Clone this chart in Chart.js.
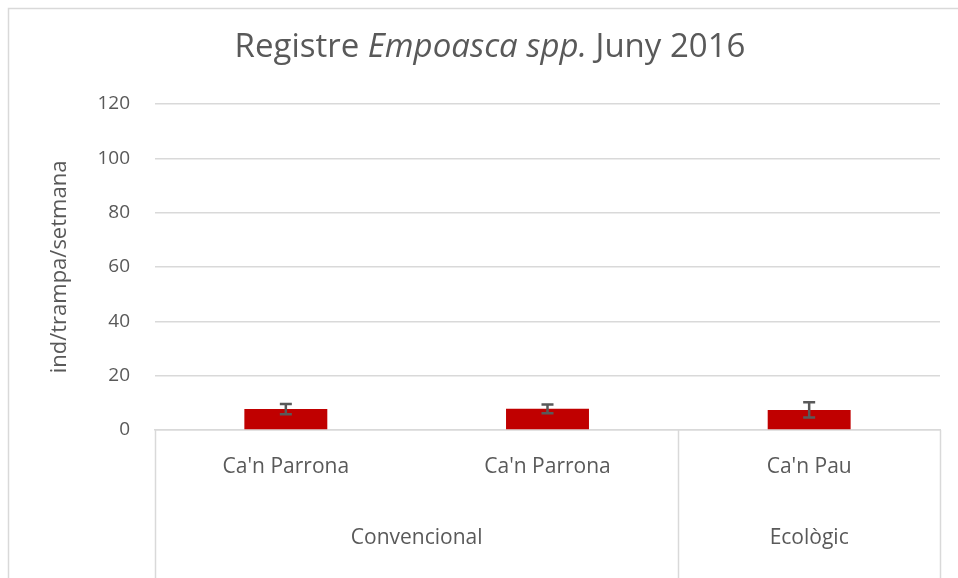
<!DOCTYPE html>
<html>
<head>
<meta charset="utf-8">
<script src="https://cdn.jsdelivr.net/npm/chart.js@4"></script>
<style>
  html, body { margin: 0; padding: 0; background: #fff; }
  #wrap { width: 958px; height: 578px; position: relative; }
</style>
</head>
<body>
<div id="wrap"><canvas id="grafic" width="958" height="578"></canvas></div>
<script>
// Dades del gràfic
const categories = ["Ca'n Parrona", "Ca'n Parrona", "Ca'n Pau"];
const grups = ["Convencional", "Convencional", "Ecològic"];
const valors = [7.7, 7.8, 7.4];
const errors = [1.9, 1.6, 2.8];
const yTicks = [0, 20, 40, 60, 80, 100, 120];

const GRIS = '#d9d9d9';
const TEXT = '#595959';
const FONT = "'Open Sans', sans-serif";

// Vora exterior, títol, títol eix Y, grups i barres d'error
const decoracio = {
    id: 'decoracio',
    beforeDraw(chart) {
        const ctx = chart.ctx;
        ctx.save();
        ctx.strokeStyle = GRIS;
        ctx.lineWidth = 1.5;
        ctx.strokeRect(8.5, 8.5, 1000, 600);
        ctx.restore();
    },
    afterDraw(chart) {
        const ctx = chart.ctx;
        const x = chart.scales.x;
        const area = chart.chartArea;
        ctx.save();

        // Títol amb part en cursiva
        const parts = [
            { t: 'Registre ', f: "33px " + FONT },
            { t: 'Empoasca spp.', f: "italic 33px " + FONT },
            { t: ' Juny 2016', f: "33px " + FONT }
        ];
        let total = 0;
        parts.forEach(p => { ctx.font = p.f; p.w = ctx.measureText(p.t).width; total += p.w; });
        let tx = 490 - total / 2;
        ctx.fillStyle = TEXT;
        ctx.textBaseline = 'middle';
        ctx.textAlign = 'left';
        parts.forEach(p => { ctx.font = p.f; ctx.fillText(p.t, tx, 48); tx += p.w; });

        // Títol eix Y
        ctx.font = "22px " + FONT;
        ctx.translate(60, (area.top + area.bottom) / 2);
        ctx.rotate(-Math.PI / 2);
        ctx.textAlign = 'center';
        ctx.fillText('ind/trampa/setmana', 0, 0);
        ctx.setTransform(1, 0, 0, 1, 0, 0);

        // Separadors i etiquetes de grup
        const mig = (x.getPixelForValue(1) - x.getPixelForValue(0)) / 2;
        const blocs = [];
        grups.forEach((g, i) => {
            if (!blocs.length || blocs[blocs.length - 1].nom !== g) blocs.push({ nom: g, ini: i, fi: i });
            else blocs[blocs.length - 1].fi = i;
        });
        ctx.strokeStyle = GRIS;
        ctx.lineWidth = 1.5;
        ctx.font = "21px " + FONT;
        ctx.textAlign = 'center';
        ctx.textBaseline = 'middle';
        blocs.forEach((b, k) => {
            const x0 = x.getPixelForValue(b.ini) - mig;
            const x1 = x.getPixelForValue(b.fi) + mig;
            ctx.beginPath();
            ctx.moveTo(Math.round(x0) + 0.5, area.bottom);
            ctx.lineTo(Math.round(x0) + 0.5, 578);
            if (k === blocs.length - 1) {
                ctx.moveTo(Math.round(x1) + 0.5, area.bottom);
                ctx.lineTo(Math.round(x1) + 0.5, 578);
            }
            ctx.stroke();
            ctx.fillStyle = TEXT;
            ctx.fillText(b.nom, (x0 + x1) / 2, 538);
        });

        // Barres d'error
        const y = chart.scales.y;
        const meta = chart.getDatasetMeta(0);
        ctx.strokeStyle = TEXT;
        ctx.lineWidth = 2.5;
        meta.data.forEach((bar, i) => {
            const yt = y.getPixelForValue(valors[i] + errors[i]);
            const yb = y.getPixelForValue(valors[i] - errors[i]);
            ctx.beginPath();
            ctx.moveTo(bar.x, yt); ctx.lineTo(bar.x, yb);
            ctx.moveTo(bar.x - 6, yt); ctx.lineTo(bar.x + 6, yt);
            ctx.moveTo(bar.x - 6, yb); ctx.lineTo(bar.x + 6, yb);
            ctx.stroke();
        });
        ctx.restore();
    }
};

new Chart(document.getElementById('grafic'), {
    type: 'bar',
    data: {
        labels: categories,
        datasets: [{
            data: valors,
            backgroundColor: '#c00000',
            borderWidth: 0,
            categoryPercentage: 1,
            barPercentage: 0.317
        }]
    },
    options: {
        responsive: false,
        animation: false,
        devicePixelRatio: 1,
        layout: { padding: { top: 104, right: 18, left: 0, bottom: 0 } },
        plugins: { legend: { display: false }, title: { display: false }, tooltip: { enabled: false } },
        scales: {
            x: {
                grid: { display: false, drawTicks: false },
                border: { display: true, color: GRIS, width: 1.5 },
                ticks: { color: TEXT, font: { family: FONT, size: 21 }, padding: 24, maxRotation: 0, autoSkip: false },
                afterFit(s) { s.height = 148; }
            },
            y: {
                min: 0, max: 120,
                afterBuildTicks(s) { s.ticks = yTicks.map(v => ({ value: v })); },
                grid: { color: GRIS, lineWidth: 1.5, drawTicks: false },
                border: { display: false },
                ticks: { color: TEXT, font: { family: FONT, size: 19 }, padding: 25 },
                afterFit(s) { s.width = 155; }
            }
        }
    },
    plugins: [decoracio]
});
</script>
</body>
</html>
